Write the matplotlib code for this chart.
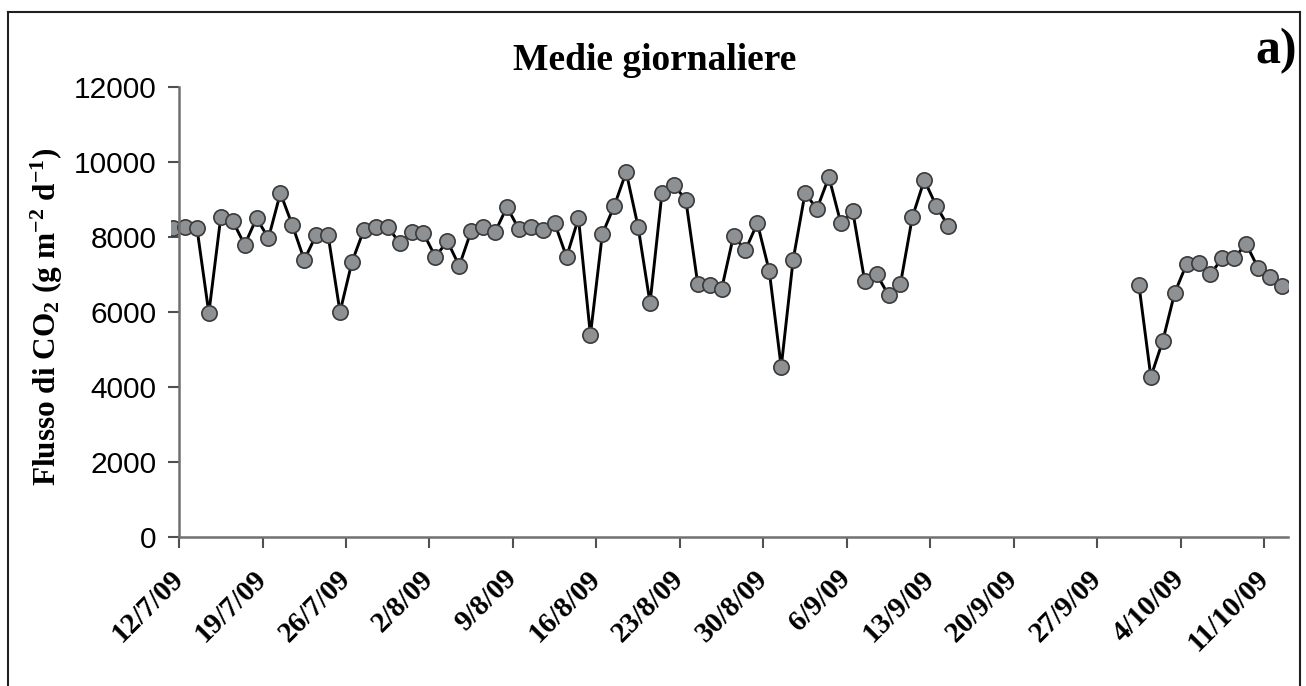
import numpy as np
import pandas as pd
import matplotlib
matplotlib.use('Agg')
import matplotlib.pyplot as plt
import matplotlib.dates as mdates
from matplotlib.lines import Line2D

plt.rcParams['mathtext.fontset'] = 'custom'
plt.rcParams['mathtext.rm'] = 'Liberation Serif:bold'
plt.rcParams['mathtext.it'] = 'Liberation Serif:bold'
plt.rcParams['mathtext.bf'] = 'Liberation Serif:bold'

# daily means of CO2 flux, first block 11/7/09 - 14/9/09
start1 = '2009-07-11'
flux1 = [8250,
         8270, 8240, 5970, 8530, 8430, 7790, 8500, 7970, 9170, 8320,
         7390, 8050, 8050, 6000, 7330, 8190, 8270, 8270, 7840, 8130,
         8100, 7470, 7890, 7230, 8160, 8270, 8130, 8800, 8210, 8270,
         8190, 8370, 7470, 8500, 5390, 8080, 8830, 9730, 8270, 6240,
         9170, 9390, 8990, 6750, 6720, 6610, 8030, 7650, 8370, 7090,
         4530, 7390, 9170, 8750, 9600, 8370, 8690, 6830, 7010, 6450,
         6750, 8530, 9520, 8830, 8290]
# second block 30/9/09 - 12/10/09
start2 = '2009-09-30'
flux2 = [6720, 4270, 5230, 6510, 7280, 7310, 7010, 7440, 7450, 7810,
         7170, 6930, 6690]

tick_labels = ['12/7/09', '19/7/09', '26/7/09', '2/8/09', '9/8/09', '16/8/09',
               '23/8/09', '30/8/09', '6/9/09', '13/9/09', '20/9/09', '27/9/09',
               '4/10/09', '11/10/09']
y_ticks = [0, 2000, 4000, 6000, 8000, 10000, 12000]

# excel-style date axis: each day sits in the middle of its slot
half = pd.Timedelta(hours=12)
dates1 = pd.date_range(start1, periods=len(flux1), freq='D') + half
dates2 = pd.date_range(start2, periods=len(flux2), freq='D') + half
tick_dates = pd.date_range('2009-07-12', periods=len(tick_labels), freq='7D')
x0 = pd.Timestamp('2009-07-12')
x1 = pd.Timestamp('2009-10-13')

fig = plt.figure(figsize=(13.06, 6.86), dpi=100)
# axes box starts a bit left of the y axis so the first marker is half clipped
ax = fig.add_axes([0.1310, 0.2172, 0.8552, 0.656])

for d, v in [(dates1, flux1), (dates2, flux2)]:
    ax.plot(d, v, color='black', lw=2.1, marker='o', markersize=11,
            markerfacecolor='#8e9194', markeredgecolor='#3a3a3a', markeredgewidth=1.2)

ax.set_xlim(x0 - pd.Timedelta(hours=16), x1)
ax.set_ylim(0, 12000)
ax.spines['left'].set_position(('data', mdates.date2num(x0)))
ax.spines['bottom'].set_bounds(mdates.date2num(x0), mdates.date2num(x1))
ax.set_yticks(y_ticks)
ax.set_yticklabels([str(t) for t in y_ticks], fontfamily='Liberation Sans', fontsize=21.5)
ax.set_xticks(tick_dates)
ax.set_xticklabels(tick_labels, rotation=45, ha='right', va='center', rotation_mode='anchor',
                   fontfamily='Liberation Serif', fontweight='bold', fontsize=21)

for s in ['top', 'right']:
    ax.spines[s].set_visible(False)
for s in ['left', 'bottom']:
    ax.spines[s].set_color('#707070')
    ax.spines[s].set_linewidth(1.8)
ax.tick_params(axis='both', direction='out', length=8, width=1.5, color='#505050')
ax.tick_params(axis='x', pad=19)
ax.tick_params(axis='y', pad=8)

ax.set_ylabel(r'Flusso di CO$_2$ (g m$^{-2}$ d$^{-1}$)', fontfamily='Liberation Serif',
              fontweight='bold', fontsize=22.5)
ax.yaxis.set_label_coords(-0.095, 0.49)
fig.text(0.5015, 0.912, 'Medie giornaliere', ha='center', va='center',
         fontfamily='Liberation Serif', fontweight='bold', fontsize=27)
fig.text(0.961, 0.925, 'a)', ha='left', va='center',
         fontfamily='Liberation Serif', fontweight='bold', fontsize=36)

# outer frame (bottom edge cut off in the original)
fc = '#202020'
fig.add_artist(Line2D([0.0061, 0.9954], [0.9825, 0.9825], transform=fig.transFigure, color=fc, lw=1.5))
fig.add_artist(Line2D([0.0061, 0.0061], [0.0, 0.9825], transform=fig.transFigure, color=fc, lw=1.5))
fig.add_artist(Line2D([0.9954, 0.9954], [0.0, 0.9825], transform=fig.transFigure, color=fc, lw=1.5))

fig.savefig('out.png', dpi=100)
